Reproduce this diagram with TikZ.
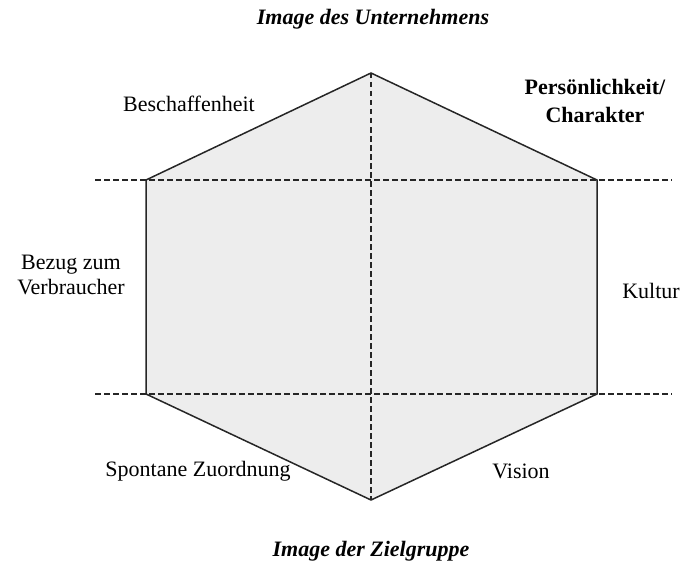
\documentclass[tikz,border=0pt]{standalone}
\usepackage{fontspec}
\setmainfont{Liberation Serif}
\begin{document}
\begin{tikzpicture}[x=1pt,y=-1pt,
  hexline/.style={line width=1.5pt,draw=black!85,fill=black!7,line join=miter},
  guide/.style={line width=1.7pt,draw=black!85,dash pattern=on 5.5pt off 3.5pt},
  lbl/.style={font=\fontsize{22}{25}\selectfont,align=center,inner sep=0pt},
  blbl/.style={font=\fontsize{22}{28}\selectfont\bfseries,align=center,inner sep=0pt},
  ttl/.style={font=\fontsize{22}{25}\selectfont\bfseries\itshape,inner sep=0pt}]
\useasboundingbox (0,0) rectangle (690,567);
\coordinate (T) at (371,73);
\coordinate (UL) at (146,180);
\coordinate (UR) at (597,180);
\coordinate (LL) at (146,394);
\coordinate (LR) at (597,394);
\coordinate (B) at (371,500);
\coordinate (gUL) at (95,180);
\coordinate (gUR) at (672,180);
\coordinate (gLL) at (95,394);
\coordinate (gLR) at (672,394);
\path[hexline] (T) -- (UR) -- (LR) -- (B) -- (LL) -- (UL) -- cycle;
\draw[guide] (gUL) -- (gUR);
\draw[guide] (gLL) -- (gLR);
\draw[guide] (T) -- (B);
\node[ttl] (t1) at (373,19) {Image des Unternehmens};
\node[ttl] (t2) at (371,551) {Image der Zielgruppe};
\node[lbl] (l1) at (189,104) {Beschaffenheit};
\node[blbl] (l2) at (595,101) {Persönlichkeit/\\Charakter};
\node[lbl] (l3) at (71,275) {Bezug zum\\Verbraucher};
\node[lbl] (l4) at (651,291) {Kultur};
\node[lbl] (l5) at (198,471) {Spontane Zuordnung};
\node[lbl] (l6) at (521,471) {Vision};
\end{tikzpicture}
\end{document}
